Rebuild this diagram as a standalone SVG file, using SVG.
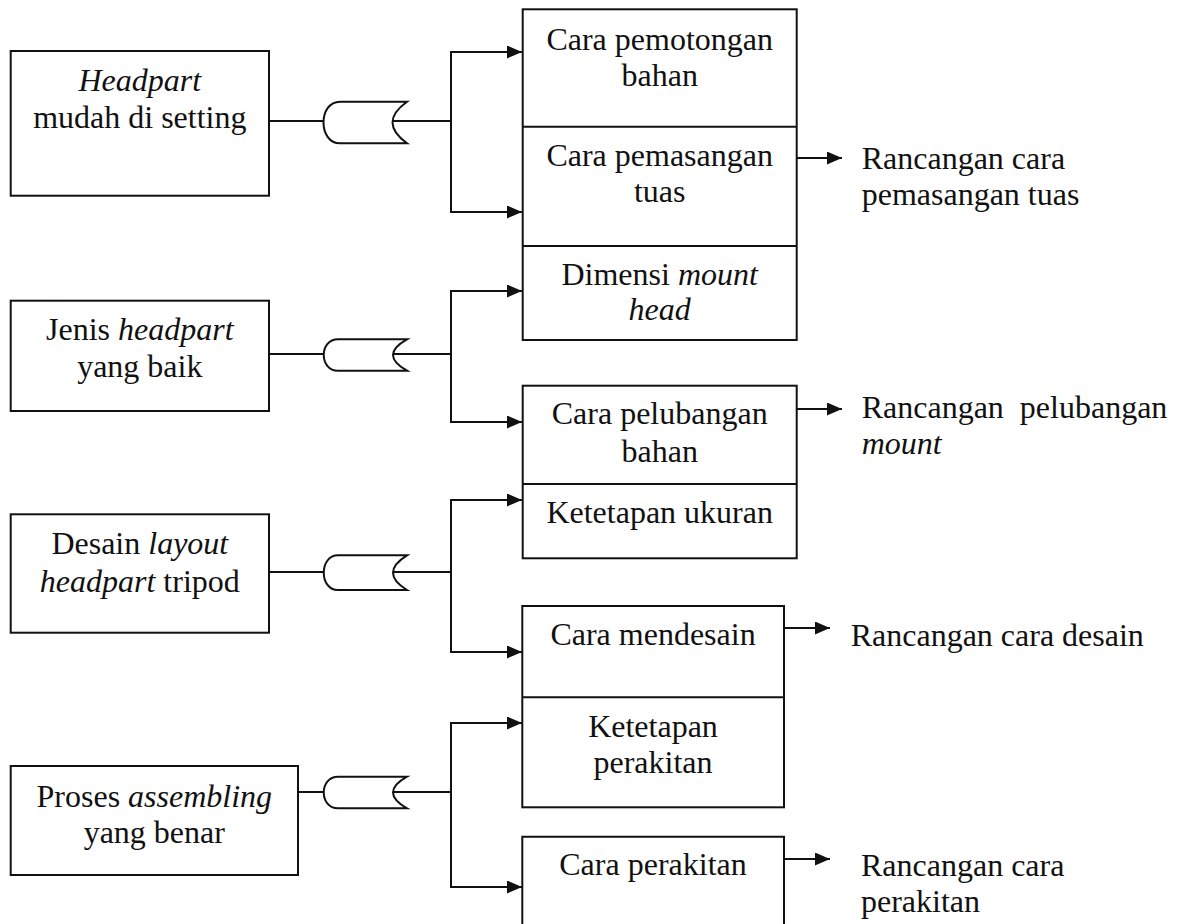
<svg xmlns="http://www.w3.org/2000/svg" width="1181" height="924" viewBox="0 0 1181 924">
<style>
.box{fill:none;stroke:#111;stroke-width:2}
.ln{fill:none;stroke:#111;stroke-width:2}
.gate{fill:#fff;stroke:#111;stroke-width:2}
text{font-family:"Liberation Serif","Times New Roman",serif;font-size:32px;fill:#111}
.c{text-anchor:middle}
.i{font-style:italic}
</style>
<defs>
<marker id="ah" markerUnits="userSpaceOnUse" markerWidth="16" markerHeight="14" refX="15" refY="6.5" orient="auto">
<path d="M0,0 L15,6.5 L0,13 z" fill="#111"/>
</marker>
</defs>
<rect width="1181" height="924" fill="#fff"/>

<g id="connectors">
<!-- gate inputs -->
<line class="ln" x1="269" y1="121" x2="326" y2="121"/>
<line class="ln" x1="269" y1="354" x2="326" y2="354"/>
<line class="ln" x1="269" y1="572" x2="326" y2="572"/>
<line class="ln" x1="298" y1="792" x2="326" y2="792"/>
<!-- gate outputs to branch -->
<line class="ln" x1="393" y1="121" x2="451" y2="121"/>
<line class="ln" x1="394" y1="354" x2="451" y2="354"/>
<line class="ln" x1="394" y1="572" x2="451" y2="572"/>
<line class="ln" x1="394" y1="792" x2="451" y2="792"/>
<!-- branches -->
<path class="ln" d="M522,52 H451 V212 H522" marker-end="url(#ah)"/>
<line class="ln" x1="451" y1="52" x2="522" y2="52" marker-end="url(#ah)"/>
<path class="ln" d="M522,291 H451 V422 H522" marker-end="url(#ah)"/>
<line class="ln" x1="451" y1="291" x2="522" y2="291" marker-end="url(#ah)"/>
<path class="ln" d="M522,500 H451 V652 H522" marker-end="url(#ah)"/>
<line class="ln" x1="451" y1="500" x2="522" y2="500" marker-end="url(#ah)"/>
<path class="ln" d="M522,723 H451 V887 H522" marker-end="url(#ah)"/>
<line class="ln" x1="451" y1="723" x2="522" y2="723" marker-end="url(#ah)"/>
<!-- outputs -->
<line class="ln" x1="797" y1="158" x2="842" y2="158" marker-end="url(#ah)"/>
<line class="ln" x1="797" y1="409" x2="842" y2="409" marker-end="url(#ah)"/>
<line class="ln" x1="784" y1="628" x2="830" y2="628" marker-end="url(#ah)"/>
<line class="ln" x1="784" y1="859" x2="830" y2="859" marker-end="url(#ah)"/>
</g>

<g id="gate1"><path class="gate" d="M340,101.7 H407 Q378,122.5 407,143.3 H340 C318,143.3 318,101.7 340,101.7 Z"/></g>
<g id="gate2"><path class="gate" d="M338,339.3 H407 Q379,355 407,370.7 H338 C319,370.7 319,339.3 338,339.3 Z"/></g>
<g id="gate3"><path class="gate" d="M338,555.3 H407 Q379,572.7 407,590 H338 C319,590 319,555.3 338,555.3 Z"/></g>
<g id="gate4"><path class="gate" d="M338,776.7 H407 Q379,792.5 407,808.3 H338 C319,808.3 319,776.7 338,776.7 Z"/></g>

<g id="n-headpart">
<rect class="box" x="10.7" y="51" width="258.3" height="144.7"/>
<text class="c" x="139.8" y="91"><tspan class="i">Headpart</tspan></text>
<text class="c" x="139.8" y="127.7">mudah di setting</text>
</g>
<g id="n-jenis">
<rect class="box" x="10.7" y="300.7" width="258.3" height="110.3"/>
<text class="c" x="139.8" y="340">Jenis <tspan class="i">headpart</tspan></text>
<text class="c" x="139.8" y="376.7">yang baik</text>
</g>
<g id="n-desain">
<rect class="box" x="10.7" y="514.3" width="258.3" height="118.4"/>
<text class="c" x="139.8" y="554">Desain <tspan class="i">layout</tspan></text>
<text class="c" x="139.8" y="591.7"><tspan class="i">headpart</tspan> tripod</text>
</g>
<g id="n-proses">
<rect class="box" x="10.7" y="766" width="287.3" height="109"/>
<text class="c" x="154.3" y="806.7">Proses <tspan class="i">assembling</tspan></text>
<text class="c" x="154.3" y="842.7">yang benar</text>
</g>

<g id="n-boxA">
<rect class="box" x="522.7" y="9.3" width="274" height="330.7"/>
<line class="ln" x1="522.7" y1="126.7" x2="796.7" y2="126.7"/>
<line class="ln" x1="522.7" y1="246" x2="796.7" y2="246"/>
<text class="c" x="659.7" y="50">Cara pemotongan</text>
<text class="c" x="659.7" y="86">bahan</text>
<text class="c" x="659.7" y="165.7">Cara pemasangan</text>
<text class="c" x="659.7" y="201.7">tuas</text>
<text class="c" x="659.7" y="285">Dimensi <tspan class="i">mount</tspan></text>
<text class="c" x="659.7" y="320"><tspan class="i">head</tspan></text>
</g>
<g id="n-boxB">
<rect class="box" x="522.7" y="385.7" width="274" height="172.6"/>
<line class="ln" x1="522.7" y1="484" x2="796.7" y2="484"/>
<text class="c" x="659.7" y="424">Cara pelubangan</text>
<text class="c" x="659.7" y="461.7">bahan</text>
<text class="c" x="659.7" y="522.7">Ketetapan ukuran</text>
</g>
<g id="n-boxC">
<rect class="box" x="522.3" y="606" width="261.7" height="201.3"/>
<line class="ln" x1="522.3" y1="697.3" x2="784" y2="697.3"/>
<text class="c" x="653" y="645">Cara mendesain</text>
<text class="c" x="653" y="736.7">Ketetapan</text>
<text class="c" x="653" y="773.3">perakitan</text>
</g>
<g id="n-boxD">
<path class="box" d="M522.3,930 V836.7 H784 V930"/>
<text class="c" x="653" y="875">Cara perakitan</text>
</g>

<g id="out-tuas">
<text x="861.7" y="169">Rancangan cara</text>
<text x="861.7" y="205">pemasangan tuas</text>
</g>
<g id="out-pelubangan">
<text x="861.7" y="417.7" style="white-space:pre">Rancangan  pelubangan</text>
<text x="861.7" y="453.7" class="i">mount</text>
</g>
<g id="out-desain">
<text x="850.7" y="645.5">Rancangan cara desain</text>
</g>
<g id="out-perakitan">
<text x="861" y="876">Rancangan cara</text>
<text x="861" y="912">perakitan</text>
</g>
</svg>
